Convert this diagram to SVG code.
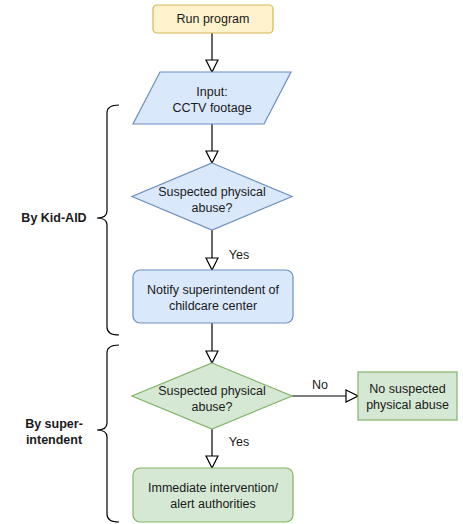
<svg xmlns="http://www.w3.org/2000/svg" width="463" height="524" viewBox="0 0 463 524">
<style>
text{font-family:"Liberation Sans",Arial,sans-serif;font-size:12.5px;fill:#1a1a1a;text-anchor:middle}
.b{font-weight:bold}
.blue{fill:#dae8fc;stroke:#6c8ebf;stroke-width:1.2}
.green{fill:#d5e8d4;stroke:#82b366;stroke-width:1.2}
.yellow{fill:#fff2cc;stroke:#d6b656;stroke-width:1.2}
.c{fill:none;stroke:#000;stroke-width:1.2;marker-end:url(#a)}
.br{fill:none;stroke:#000;stroke-width:1.2}
</style>
<defs>
<marker id="a" markerUnits="userSpaceOnUse" markerWidth="14" markerHeight="14" viewBox="-1 -1 14 14" refX="12" refY="6" orient="auto">
<path d="M0,0 L12,6 L0,12 Z" fill="#fff" stroke="#000" stroke-width="1.2"/>
</marker>
</defs>
<g id="connectors">
<path class="c" d="M212,33 V72"/>
<path class="c" d="M212,124 V163"/>
<path class="c" d="M212,230 V270"/>
<path class="c" d="M212,323 V363"/>
<path class="c" d="M292,396 H358"/>
<path class="c" d="M212,429 V468"/>
<text x="239" y="259">Yes</text>
<text x="239" y="446">Yes</text>
<text x="320" y="389">No</text>
</g>
<g id="run">
<rect class="yellow" x="153" y="5" width="120" height="28" rx="4"/>
<text x="213" y="23">Run program</text>
</g>
<g id="input">
<path class="blue" d="M160,72 H291 L264,124 H133 Z"/>
<text x="212" y="96">Input:</text>
<text x="212" y="112">CCTV footage</text>
</g>
<g id="decision1">
<path class="blue" d="M212,163 L292,196.5 L212,230 L132,196.5 Z"/>
<text x="212" y="196">Suspected physical</text>
<text x="212" y="212">abuse?</text>
</g>
<g id="notify">
<rect class="blue" x="133" y="270" width="160" height="53" rx="7"/>
<text x="213" y="294">Notify superintendent of</text>
<text x="213" y="310">childcare center</text>
</g>
<g id="decision2">
<path class="green" d="M212,363 L292,396 L212,429 L132,396 Z"/>
<text x="212" y="395">Suspected physical</text>
<text x="212" y="411">abuse?</text>
</g>
<g id="noabuse">
<rect class="green" x="358" y="372" width="99" height="48"/>
<text x="407.5" y="393">No suspected</text>
<text x="407.5" y="409">physical abuse</text>
</g>
<g id="intervene">
<rect class="green" x="133" y="468" width="160" height="54" rx="7"/>
<text x="213" y="492">Immediate intervention/</text>
<text x="213" y="508">alert authorities</text>
</g>
<g id="brace1">
<path class="br" d="M119,105 Q107,105 107,113 V211 Q107,218 97,218 Q107,218 107,225 V327 Q107,335 119,335"/>
<text class="b" x="54" y="222">By Kid-AID</text>
</g>
<g id="brace2">
<path class="br" d="M119,345 Q107,345 107,353 V423 Q107,430 97,430 Q107,430 107,437 V514 Q107,522 119,522"/>
<text class="b" x="54" y="428">By super-</text>
<text class="b" x="54" y="444">intendent</text>
</g>
</svg>
